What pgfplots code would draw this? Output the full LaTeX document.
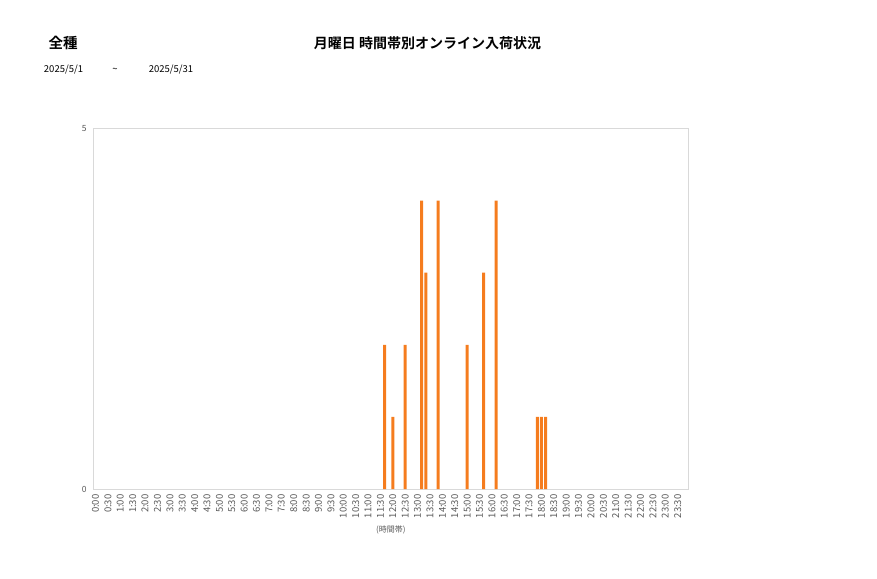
\documentclass[border=0pt]{standalone}
\usepackage{pgfplots}
\pgfplotsset{compat=1.18}
\usepackage{fontspec}
\setmainfont{Noto Sans CJK JP}[BoldFont={Noto Sans CJK JP Bold}]
\definecolor{barorange}{RGB}{245,124,30}
\definecolor{tickgray}{RGB}{89,89,89}
\definecolor{framegray}{RGB}{217,217,217}
\begin{document}
\begin{tikzpicture}[x=1pt,y=1pt]
\path[use as bounding box] (0,0) rectangle (877,578);
\node[font=\fontsize{14.5}{16}\selectfont\bfseries] at (63,535) {全種};
\node[font=\fontsize{14}{16}\selectfont\bfseries] at (427.5,535) {月曜日 時間帯別オンライン入荷状況};
\node[font=\fontsize{9.5}{11}\selectfont] at (63.5,508) {2025/5/1};
\node[font=\fontsize{9.5}{11}\selectfont] at (115,508) {\char"007E};
\node[font=\fontsize{9.5}{11}\selectfont] at (171,508) {2025/5/31};
\begin{axis}[
  at={(93.5pt,89pt)}, anchor=south west,
  scale only axis, width=594.5pt, height=360.5pt,
  ybar, bar width=0.72,
  xmin=-0.5, xmax=143.5, ymin=0, ymax=5,
  axis line style={framegray},
  tick style={draw=none},
  ytick={0,5},
  xtick={0,3,...,141},
  xticklabels={0:00,0:30,1:00,1:30,2:00,2:30,3:00,3:30,4:00,4:30,5:00,5:30,6:00,6:30,7:00,7:30,8:00,8:30,9:00,9:30,10:00,10:30,11:00,11:30,12:00,12:30,13:00,13:30,14:00,14:30,15:00,15:30,16:00,16:30,17:00,17:30,18:00,18:30,19:00,19:30,20:00,20:30,21:00,21:30,22:00,22:30,23:00,23:30},
  x tick label style={rotate=90, anchor=east, font=\fontsize{9.5}{10}\selectfont, text=tickgray, inner sep=1pt},
  y tick label style={font=\fontsize{8.5}{9}\selectfont, text=tickgray, xshift=-3.5pt},
  /pgf/number format/assume math mode=true,
  xlabel={(時間帯)},
  xlabel style={font=\fontsize{8}{9}\selectfont, text=tickgray, yshift=-3pt},
]
\addplot[fill=barorange, draw=none] coordinates {
(70,2) (72,1) (75,2) (79,4) (80,3) (83,4) (90,2) (94,3) (97,4) (107,1) (108,1) (109,1)
};
\end{axis}
\end{tikzpicture}
\end{document}
